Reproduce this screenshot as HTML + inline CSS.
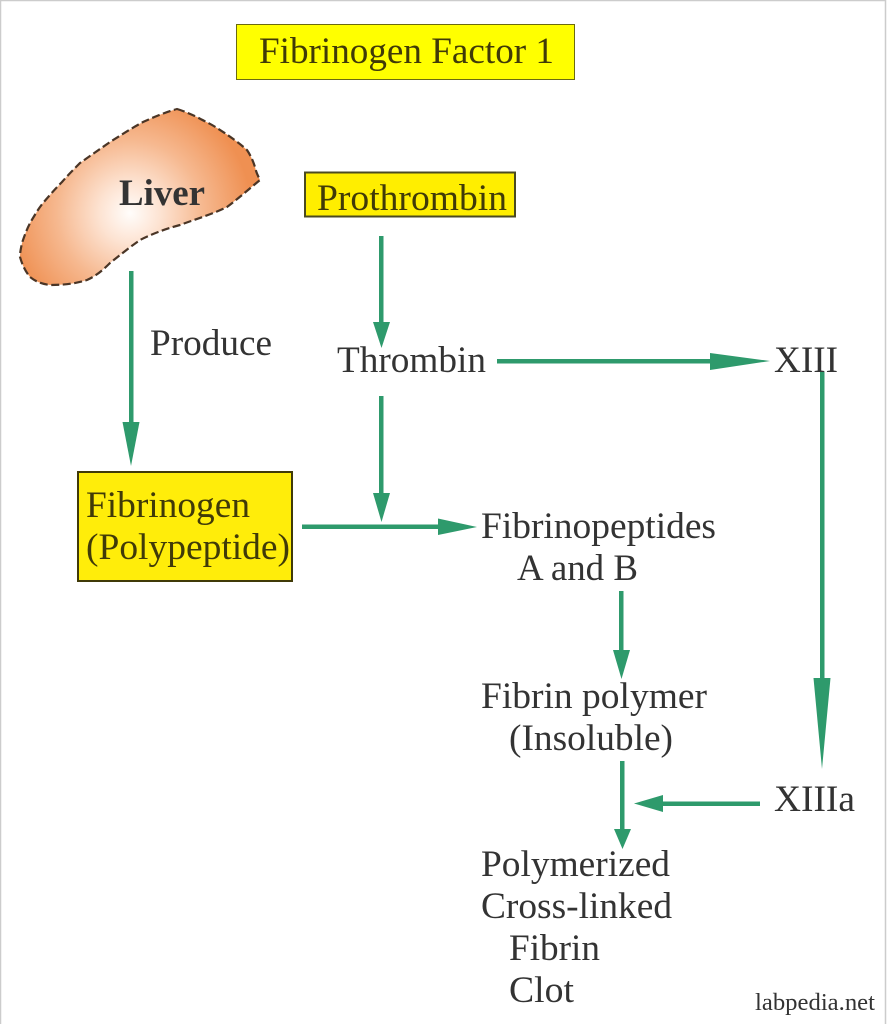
<!DOCTYPE html>
<html><head><meta charset="utf-8"><style>
html,body{margin:0;padding:0;background:#fff;width:887px;height:1024px;overflow:hidden}
svg{display:block}
text{font-family:"Liberation Serif",serif;font-size:36.5px;fill:#333333}
.d{fill:#403a08}
</style></head><body>
<svg width="887" height="1024" viewBox="0 0 887 1024" xmlns="http://www.w3.org/2000/svg">
<defs>
<radialGradient id="g" gradientUnits="userSpaceOnUse" cx="130" cy="213" r="122">
<stop offset="0" stop-color="#fffdfb"/>
<stop offset="0.25" stop-color="#fde3d2"/>
<stop offset="0.6" stop-color="#f6b88f"/>
<stop offset="1" stop-color="#ef9052"/>
</radialGradient>
</defs>
<rect x="0.5" y="0.5" width="885" height="1030" fill="#fff" stroke="#cccccc" stroke-width="1.5"/>

<rect x="236.5" y="24.5" width="338" height="55" fill="#ffff00" stroke="#6b6a10" stroke-width="1"/>
<text class="d" x="259" y="63" textLength="295" lengthAdjust="spacingAndGlyphs">Fibrinogen Factor 1</text>

<path d="M177 109 C184 111 190 114 197 117 C204 121 211 124 217 128 C228 135 238 142 247 150 C251 156 253 161 255 167 C256 172 258 176 260 180 C249 189 239 198 227 207 C213 214 196 219 180 225 C165 229 152 234 140 240 C130 247 120 255 110 263 C103 270 96 276 87 280 C75 284 62 285 50 285 C41 284 35 281 30 277 C25 271 22 264 20 257 C20 252 21 248 22 243 C25 234 28 226 33 218 C36 213 39 208 43 203 C49 196 55 189 62 182 C68 175 74 169 80 163 C90 156 100 149 110 142 C121 135 132 128 143 122 C154 117 166 112 177 109 Z" fill="url(#g)" stroke="#4a3526" stroke-width="2.2" stroke-dasharray="8 3.5"/>
<text x="119" y="205" style="font-weight:bold" textLength="86" lengthAdjust="spacingAndGlyphs">Liver</text>

<rect x="305" y="172.5" width="210" height="44" fill="#ffee00" stroke="#4b4a20" stroke-width="2"/>
<text class="d" x="317" y="210" textLength="190" lengthAdjust="spacingAndGlyphs">Prothrombin</text>

<text x="150" y="355" textLength="122" lengthAdjust="spacingAndGlyphs">Produce</text>
<text x="337" y="372" textLength="149" lengthAdjust="spacingAndGlyphs">Thrombin</text>
<text x="774" y="372" textLength="64" lengthAdjust="spacingAndGlyphs">XIII</text>

<rect x="78" y="472" width="214" height="109" fill="#ffed0a" stroke="#403a08" stroke-width="2"/>
<text class="d" x="86" y="517" textLength="164" lengthAdjust="spacingAndGlyphs">Fibrinogen</text>
<text class="d" x="86" y="559" textLength="204" lengthAdjust="spacingAndGlyphs">(Polypeptide)</text>

<text x="481" y="538" textLength="235" lengthAdjust="spacingAndGlyphs">Fibrinopeptides</text>
<text x="517" y="580" textLength="121" lengthAdjust="spacingAndGlyphs">A and B</text>
<text x="481" y="708" textLength="226" lengthAdjust="spacingAndGlyphs">Fibrin polymer</text>
<text x="509" y="750" textLength="164" lengthAdjust="spacingAndGlyphs">(Insoluble)</text>
<text x="774" y="811" textLength="81" lengthAdjust="spacingAndGlyphs">XIIIa</text>
<text x="481" y="876" textLength="189" lengthAdjust="spacingAndGlyphs">Polymerized</text>
<text x="481" y="918" textLength="191" lengthAdjust="spacingAndGlyphs">Cross-linked</text>
<text x="509" y="960" textLength="91" lengthAdjust="spacingAndGlyphs">Fibrin</text>
<text x="509" y="1002" textLength="65" lengthAdjust="spacingAndGlyphs">Clot</text>
<text x="755" y="1010" style="font-size:24px" textLength="120" lengthAdjust="spacingAndGlyphs">labpedia.net</text>

<g fill="#2e9a6c" stroke="none">
<rect x="129" y="271" width="4.5" height="155"/><polygon points="122.5,422 139.5,422 131,466"/>
<rect x="379" y="236" width="4.5" height="90"/><polygon points="373,322 390,322 381.5,348"/>
<rect x="497" y="359" width="216" height="4.5"/><polygon points="710,353 710,370 770,361"/>
<rect x="379" y="396" width="4.5" height="100"/><polygon points="373,493 390,493 381.5,522"/>
<rect x="302" y="524.5" width="140" height="4.5"/><polygon points="438,518.5 438,535 477,527"/>
<rect x="619" y="591" width="4.5" height="62"/><polygon points="613,650 630,650 621.5,679"/>
<rect x="820" y="372" width="4.5" height="310"/><polygon points="813.5,678 830.5,678 822,769"/>
<rect x="620" y="761" width="4.5" height="72"/><polygon points="614,829 631,829 622.5,849"/>
<rect x="660" y="801.5" width="100" height="4.5"/><polygon points="663,795 663,812 634,803.5"/>
</g>
</svg>
</body></html>
